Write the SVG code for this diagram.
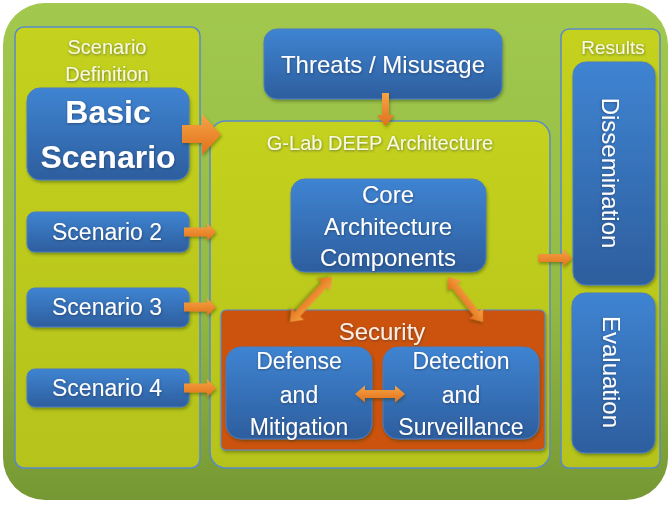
<svg xmlns="http://www.w3.org/2000/svg" width="668" height="505" viewBox="0 0 668 505">
<defs>
<linearGradient id="bg" x1="0" y1="0" x2="0" y2="1">
<stop offset="0" stop-color="#a2c84e"/><stop offset="0.6" stop-color="#93ba43"/><stop offset="1" stop-color="#769834"/>
</linearGradient>
<linearGradient id="panel" x1="0" y1="0" x2="0" y2="1">
<stop offset="0" stop-color="#c4d11d"/><stop offset="1" stop-color="#b5c31b"/>
</linearGradient>
<linearGradient id="blue" x1="0" y1="0" x2="0" y2="1">
<stop offset="0" stop-color="#3f84d2"/><stop offset="1" stop-color="#2d5e9e"/>
</linearGradient>
<linearGradient id="orng" x1="0" y1="0" x2="0" y2="1">
<stop offset="0" stop-color="#f7a443"/><stop offset="1" stop-color="#e0701d"/>
</linearGradient>
<filter id="sh" x="-20%" y="-20%" width="140%" height="150%">
<feDropShadow dx="1" dy="2" stdDeviation="1.5" flood-color="#2a3a10" flood-opacity="0.4"/>
</filter>
<filter id="tsh" x="-10%" y="-20%" width="120%" height="150%">
<feDropShadow dx="0.5" dy="1" stdDeviation="0.8" flood-color="#1c2a40" flood-opacity="0.5"/>
</filter>
</defs>
<style>
.panel{fill:url(#panel);stroke:#5a8acb;stroke-width:1.5}
.box{fill:url(#blue);stroke:#4a7cc0;stroke-width:1;filter:url(#sh)}
.arr{fill:url(#orng);filter:url(#sh)}
text{font-family:"Liberation Sans",Arial,sans-serif;fill:#ffffff;text-anchor:middle;filter:url(#tsh)}
.pl{font-size:20px;fill:#f6f9e2}
.t{font-size:23px}
</style>
<rect x="3" y="3" width="665" height="497" rx="42" fill="url(#bg)"/>

<g id="scenario-definition">
<rect class="panel" x="15" y="27" width="185" height="441" rx="9"/>
<text class="pl" x="107" y="54">Scenario</text>
<text class="pl" x="107" y="81">Definition</text>
</g>
<g id="basic-scenario">
<rect class="box" x="27" y="88" width="162" height="92" rx="13"/>
<text x="108" y="123" style="font-size:32px;font-weight:bold">Basic</text>
<text x="108" y="168" style="font-size:32px;font-weight:bold">Scenario</text>
</g>
<g id="scenario-2">
<rect class="box" x="27" y="212" width="162" height="40" rx="8"/>
<text class="t" x="107" y="240">Scenario 2</text>
</g>
<g id="scenario-3">
<rect class="box" x="27" y="288" width="162" height="39" rx="8"/>
<text class="t" x="107" y="315">Scenario 3</text>
</g>
<g id="scenario-4">
<rect class="box" x="27" y="369" width="162" height="38" rx="8"/>
<text class="t" x="107" y="396">Scenario 4</text>
</g>

<g id="threats">
<rect class="box" x="264" y="29" width="238" height="70" rx="13"/>
<text x="383" y="73" style="font-size:24px">Threats / Misusage</text>
</g>

<g id="glab-deep">
<rect class="panel" x="210" y="121" width="340" height="347" rx="16"/>
<text class="pl" x="380" y="150">G-Lab DEEP Architecture</text>
</g>
<g id="core">
<rect class="box" x="291" y="179" width="195" height="93" rx="14"/>
<text x="388" y="203" style="font-size:24px">Core</text>
<text x="388" y="235" style="font-size:24px">Architecture</text>
<text x="388" y="266" style="font-size:24px">Components</text>
</g>
<g id="security">
<rect x="221" y="310" width="324" height="140" rx="5" fill="#cc5209" stroke="#5a8acb" stroke-width="1.2" filter="url(#sh)"/>
<text x="382" y="340" style="font-size:24px;fill:#fbeee4">Security</text>
</g>
<g id="defense">
<rect class="box" x="226" y="347" width="146" height="92" rx="15"/>
<text class="t" x="299" y="369">Defense</text>
<text class="t" x="299" y="403">and</text>
<text class="t" x="299" y="435">Mitigation</text>
</g>
<g id="detection">
<rect class="box" x="383" y="347" width="156" height="92" rx="15"/>
<text class="t" x="461" y="369">Detection</text>
<text class="t" x="461" y="403">and</text>
<text class="t" x="461" y="435">Surveillance</text>
</g>

<g id="results">
<rect class="panel" x="561" y="29" width="99" height="439" rx="8"/>
<text x="613" y="54" style="font-size:19px;fill:#f6f9e2">Results</text>
</g>
<g id="dissemination">
<rect class="box" x="573" y="62" width="82" height="223" rx="13"/>
<text class="t" transform="translate(602,173) rotate(90)" style="font-size:24px">Dissemination</text>
</g>
<g id="evaluation">
<rect class="box" x="572" y="293" width="83" height="160" rx="13"/>
<text class="t" transform="translate(603,372) rotate(90)" style="font-size:24px">Evaluation</text>
</g>

<g id="connectors">
<path class="arr" d="M182,125 H202 V114 L221,134.5 L202,155 V143 H182 Z"/>
<path class="arr" d="M184,227.5 H207 V223 L216,232 L207,241 V236.5 H184 Z"/>
<path class="arr" d="M184,302.5 H207 V298 L216,307 L207,316 V311.5 H184 Z"/>
<path class="arr" d="M184,383.5 H207 V379 L216,388 L207,397 V392.5 H184 Z"/>
<path class="arr" d="M382,93 V115 H377 L385.5,126 L394,115 H389 V93 Z"/>
<path class="arr" d="M538,254 H563 V249 L572,258 L563,267 V262 H538 Z"/>
<path class="arr" transform="translate(332,277) rotate(133)" d="M0,0 L11,-8.5 V-3.5 H50.6 V-8.5 L61.6,0 L50.6,8.5 V3.5 H11 V8.5 Z"/>
<path class="arr" transform="translate(448,277) rotate(52.1)" d="M0,0 L11,-8.5 V-3.5 H46 V-8.5 L57,0 L46,8.5 V3.5 H11 V8.5 Z"/>
<path class="arr" d="M355,394 L365,385.5 V390 H395 V385.5 L405,394 L395,402.5 V398 H365 V402.5 Z"/>
</g>
</svg>
